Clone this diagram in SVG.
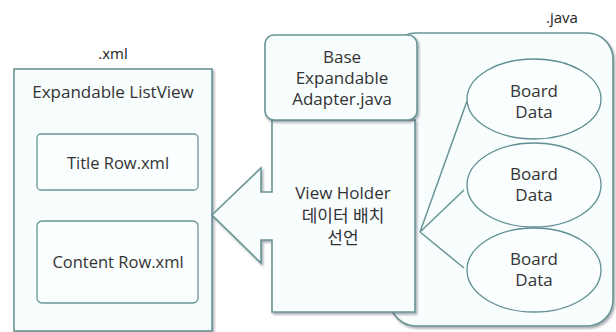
<svg xmlns="http://www.w3.org/2000/svg" width="616" height="332" viewBox="0 0 616 332">
<defs>
<filter id="sh" x="-10%" y="-10%" width="130%" height="130%">
<feDropShadow dx="1.5" dy="2" stdDeviation="1.2" flood-color="#445" flood-opacity="0.45"/>
</filter>
</defs>
<style>
.box{fill:#f8fdfe;stroke:#6a9597;stroke-width:1.6}
.inner{fill:#fbfeff;stroke:#6a9597;stroke-width:1.3}
.ell{fill:#fbfeff;stroke:#5f8e93;stroke-width:1.3}
.ln{fill:none;stroke:#6a9597;stroke-width:1.5}
text{font-family:"Open Sans","Noto Sans","Noto Sans CJK KR",sans-serif;fill:#333;text-anchor:middle}
.t17{font-size:17px}
.t16{font-size:16.5px}
.lab{font-size:15px;fill:#222}
</style>
<rect width="616" height="332" fill="#ffffff"/>

<g id="java-container">
<rect x="390" y="33" width="223" height="293" rx="26" class="box" filter="url(#sh)"/>
<text class="lab" x="562" y="23">.java</text>
</g>

<g id="xml-container">
<rect x="14" y="69" width="198" height="262" class="box" filter="url(#sh)"/>
<text class="lab" x="113" y="59">.xml</text>
<text class="t17" x="113" y="98">Expandable ListView</text>
</g>

<g id="title-row">
<rect x="37" y="134" width="161" height="56" rx="4" class="inner"/>
<text class="t16" x="118" y="169">Title Row.xml</text>
</g>

<g id="content-row">
<rect x="37" y="221" width="161" height="82" rx="5" class="inner"/>
<text class="t16" x="118" y="268">Content Row.xml</text>
</g>

<g id="connectors">
<path class="ln" d="M420,232 L467,101 M420,232 L464,190 M420,232 L464,268"/>
</g>

<g id="board-data-1">
<ellipse cx="534" cy="99" rx="67" ry="40" class="ell"/>
<text class="t17" x="534" y="97">Board</text>
<text class="t17" x="534" y="118">Data</text>
</g>
<g id="board-data-2">
<ellipse cx="534" cy="185" rx="67" ry="42" class="ell"/>
<text class="t17" x="534" y="180">Board</text>
<text class="t17" x="534" y="201">Data</text>
</g>
<g id="board-data-3">
<ellipse cx="534" cy="270" rx="67" ry="42" class="ell"/>
<text class="t17" x="534" y="265">Board</text>
<text class="t17" x="534" y="286">Data</text>
</g>

<g id="view-holder">
<path d="M272,120 L272,192 L261,192 L261,168 L212,215 L261,263 L261,240 L272,240 L272,312 L415,312 L415,120 Z" class="box" filter="url(#sh)"/>
<text class="t17" x="343" y="199">View Holder</text>
<text class="t17" x="343" y="222">데이터 배치</text>
<text class="t17" x="343" y="244">선언</text>
</g>

<g id="base-adapter">
<rect x="265" y="35" width="152" height="85" rx="9" class="box" filter="url(#sh)"/>
<text class="t17" x="342" y="63">Base</text>
<text class="t17" x="342" y="84">Expandable</text>
<text class="t17" x="342" y="105">Adapter.java</text>
</g>
</svg>
